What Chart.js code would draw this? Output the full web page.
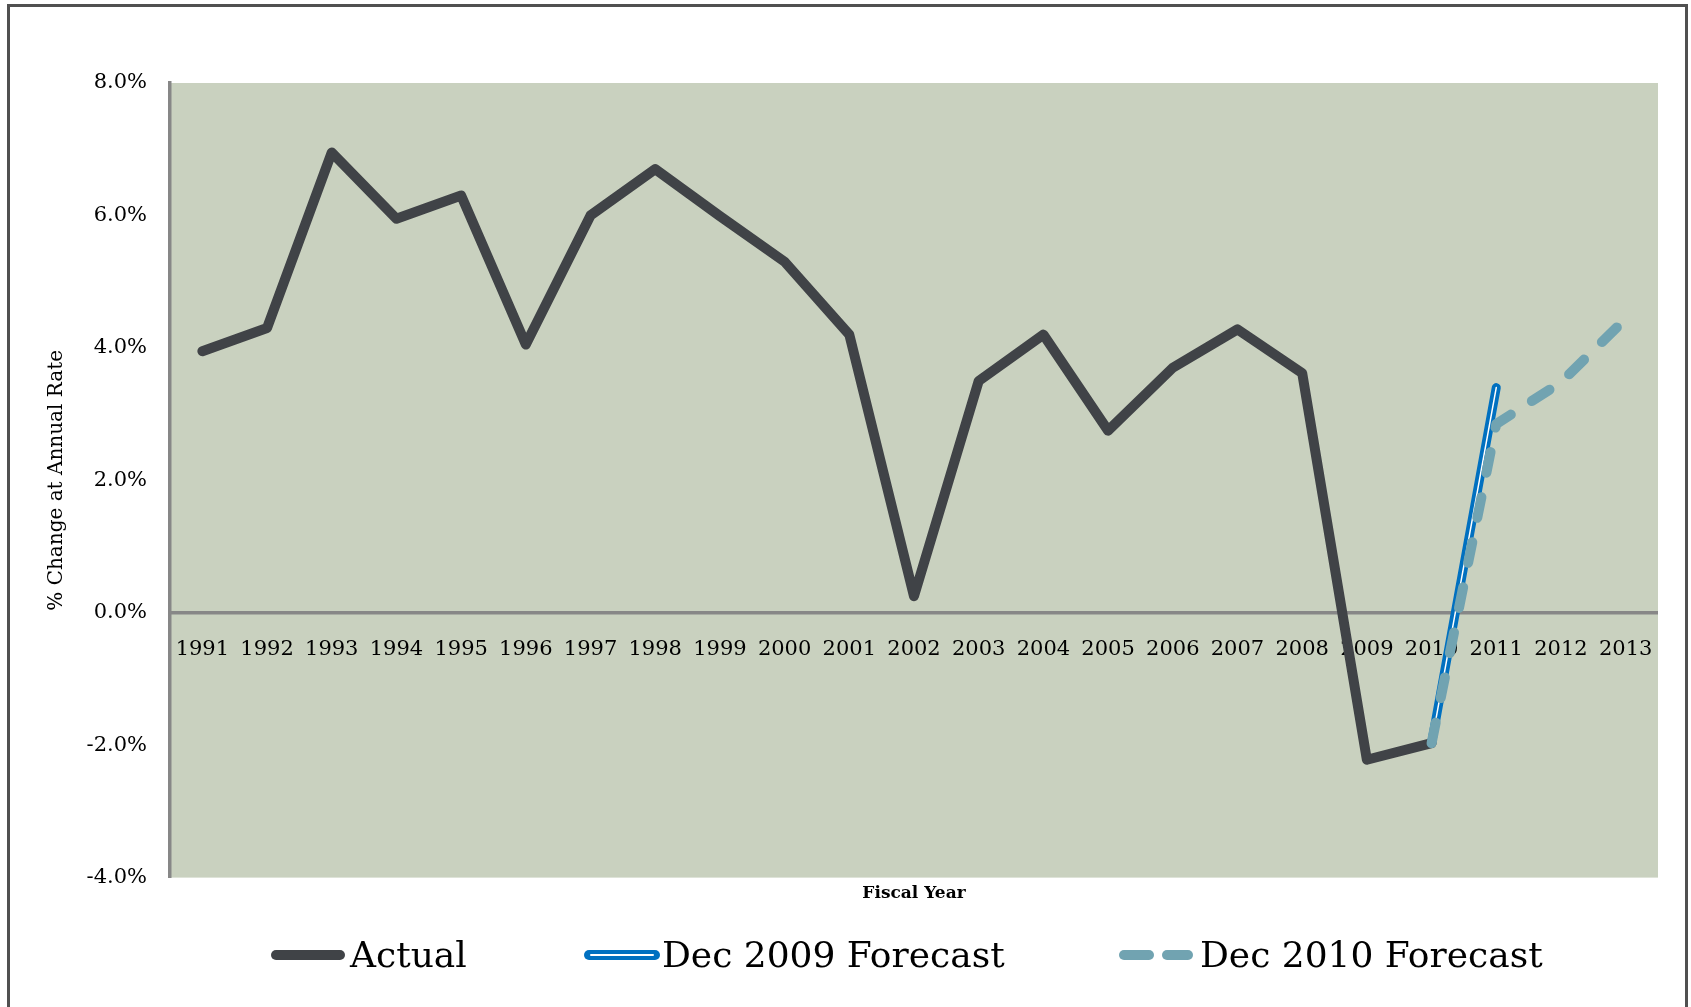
<!DOCTYPE html>
<html>
<head>
<meta charset="utf-8">
<title>Fiscal Year Growth</title>
<script src="https://cdn.jsdelivr.net/npm/chart.js@4.4.1/dist/chart.umd.min.js"></script>
<style>
  html, body {
    margin: 0;
    padding: 0;
    background: #ffffff;
    overflow: hidden;
  }
  #wrap {
    position: relative;
    width: 1691px;
    height: 1007px;
  }
  #frame {
    position: absolute;
    left: 7px;
    top: 4px;
    width: 1675px;
    height: 1100px;
    border: 3px solid #505050;
    pointer-events: none;
  }
  .legend-item {
    position: absolute;
    top: 937px;
    font-family: "DejaVu Serif", serif;
    font-size: 36px;
    line-height: 36px;
    color: #000000;
    white-space: nowrap;
  }
  .swatch {
    position: absolute;
    height: 10px;
    border-radius: 5px;
  }
</style>
</head>
<body>
<div id="wrap">
  <canvas id="my-chart"></canvas>
  <div id="frame"></div>

  <div class="swatch" style="left:271px; top:950px; width:74px; background:#404347;"></div>
  <div class="legend-item" style="left:350px;">Actual</div>

  <div class="swatch" style="left:584px; top:950px; width:76px; background:#0070c0;"></div>
  <div class="swatch" style="left:590px; top:954px; width:64px; height:2px; background:#ffffff;"></div>
  <div class="legend-item" style="left:662px;">Dec 2009 Forecast</div>

  <div class="swatch" style="left:1119px; top:950px; width:35px; background:#71a3b1;"></div>
  <div class="swatch" style="left:1162px; top:950px; width:31px; background:#71a3b1;"></div>
  <div class="legend-item" style="left:1200px;">Dec 2010 Forecast</div>
</div>

<script>
"use strict";

// fiscal years on the x axis
const years = [
  "1991", "1992", "1993", "1994", "1995", "1996", "1997", "1998",
  "1999", "2000", "2001", "2002", "2003", "2004", "2005", "2006",
  "2007", "2008", "2009", "2010", "2011", "2012", "2013",
];

// % change at annual rate
const actual = [
  3.95, 4.3, 6.95, 5.95, 6.3, 4.05, 6.0, 6.7, 5.99, 5.3,
  4.2, 0.25, 3.5, 4.2, 2.75, 3.7, 4.28, 3.62, -2.22, -1.97,
  null, null, null,
];
const dec2009Forecast = [
  null, null, null, null, null, null, null, null, null, null,
  null, null, null, null, null, null, null, null, null, -1.97,
  3.4, null, null,
];
const dec2010Forecast = [
  null, null, null, null, null, null, null, null, null, null,
  null, null, null, null, null, null, null, null, null, -1.97,
  2.85, 3.48, 4.44,
];

// y axis ticks
const yMin = -4;
const yMax = 8;
const yStep = 2;

// paint the plot area sage green and put the zero line on it
const plotBackground = {
  id: "plotBackground",
  beforeDraw(chart) {
    const { ctx, chartArea } = chart;
    ctx.save();
    ctx.fillStyle = "#c9d1bf";
    ctx.fillRect(
      chartArea.left,
      chartArea.top,
      chartArea.right - chartArea.left,
      chartArea.bottom - chartArea.top
    );
    ctx.restore();
  },
  beforeDatasetsDraw(chart) {
    const { ctx, chartArea, scales } = chart;
    const y0 = scales.y.getPixelForValue(0);
    ctx.save();
    ctx.beginPath();
    ctx.rect(chartArea.left, chartArea.top, chartArea.right - chartArea.left, chartArea.bottom - chartArea.top);
    ctx.clip();
    ctx.strokeStyle = "#878787";
    ctx.lineWidth = 3.5;
    ctx.lineCap = "butt";
    ctx.beginPath();
    ctx.moveTo(chartArea.left, y0);
    ctx.lineTo(chartArea.right, y0);
    ctx.stroke();
    ctx.restore();
  },
};

const serif = "'DejaVu Serif', serif";

function lineDataset(label, data, color, width, order, dash) {
  return {
    label: label,
    data: data,
    borderColor: color,
    backgroundColor: color,
    borderWidth: width,
    borderDash: dash || [],
    borderCapStyle: "round",
    borderJoinStyle: "round",
    pointRadius: 0,
    pointHoverRadius: 0,
    tension: 0,
    spanGaps: false,
    order: order,
  };
}

const ctx = document.getElementById("my-chart");

const myChart = new Chart(ctx, {
  type: "line",
  data: {
    labels: years,
    datasets: [
      lineDataset("Actual", actual, "#404347", 10, 4),
      lineDataset("Dec 2009 Forecast", dec2009Forecast, "#0070c0", 9, 3),
      // white stripe inside the blue line
      lineDataset("Dec 2009 inner", dec2009Forecast, "#ffffff", 1.5, 2),
      lineDataset("Dec 2010 Forecast", dec2010Forecast, "#71a3b1", 10, 1, [21, 25]),
    ],
  },
  options: {
    responsive: true,
    maintainAspectRatio: false,
    animation: false,
    events: [],
    layout: {
      padding: { left: 45, right: 33, top: 83, bottom: 103 },
    },
    plugins: {
      legend: { display: false },
      tooltip: { enabled: false },
      title: {
        display: true,
        text: "Fiscal Year",
        position: "bottom",
        fullSize: false,
        color: "#000000",
        font: { family: serif, size: 17, weight: "bold", lineHeight: 1.2 },
        padding: { top: 6, bottom: 0 },
      },
    },
    scales: {
      x: {
        type: "category",
        offset: true,
        position: { y: 0 },
        grid: { display: false, drawTicks: false, tickLength: 0 },
        border: { display: false },
        ticks: {
          color: "#000000",
          font: { family: serif, size: 21 },
          padding: 24,
          maxRotation: 0,
          autoSkip: false,
        },
      },
      y: {
        min: yMin,
        max: yMax,
        grid: { display: false, drawTicks: false, tickLength: 0 },
        border: { display: true, color: "#878787", width: 3.5 },
        ticks: {
          stepSize: yStep,
          color: "#000000",
          font: { family: serif, size: 21 },
          padding: 23,
          callback: (value) => value.toFixed(1) + "%",
        },
        title: {
          display: true,
          text: "% Change at Annual Rate",
          color: "#000000",
          font: { family: serif, size: 20, lineHeight: 1.2 },
          padding: { top: 0, bottom: 0 },
        },
        afterFit(scale) {
          scale.width = 125;
        },
      },
    },
  },
  plugins: [plotBackground],
});
</script>
</body>
</html>
